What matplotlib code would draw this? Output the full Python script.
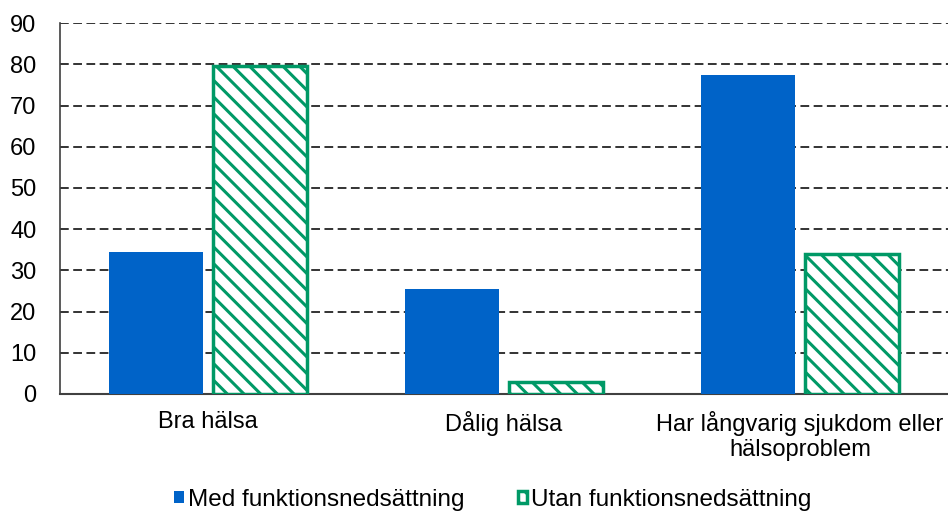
import matplotlib
matplotlib.use("Agg")
import matplotlib.pyplot as plt
import numpy as np

categories = ["Bra hälsa", "Dålig hälsa", "Har långvarig sjukdom eller\nhälsoproblem"]
med = [34.5, 25.5, 77.5]
utan = [79.5, 3.0, 34.0]
series_names = ["Med funktionsnedsättning", "Utan funktionsnedsättning"]

blue = "#0063C8"
green = "#009966"

plt.rcParams["font.family"] = ["Liberation Sans", "DejaVu Sans"]
plt.rcParams["hatch.linewidth"] = 2.2
plt.rcParams["hatch.color"] = green

fig = plt.figure(figsize=(9.48, 5.13), dpi=100)
ax = fig.add_axes([0.0633, 0.232, 0.9367, 0.723])

x = np.arange(len(categories))
w = 0.317
ax.bar(x - 0.175, med, width=w, color=blue, zorder=3, label=series_names[0])
ax.bar(x + 0.175, utan, width=w, facecolor="white", edgecolor=green,
       linewidth=2.5, hatch="\\\\", zorder=3, label=series_names[1])

ax.set_xlim(-0.5, 2.5)
ax.set_ylim(0, 90)
ax.set_yticks(range(0, 91, 10))
ax.set_xticks(x)
ax.set_xticklabels(categories, fontsize=17, linespacing=1.2)
ax.tick_params(axis="y", labelsize=17, length=0, pad=17)
ax.tick_params(axis="x", length=0, pad=12)
ax.yaxis.grid(True, linestyle=(0, (4.5, 2.3)), color="#333333", linewidth=1.4, zorder=0)
ax.set_axisbelow(True)
for s in ["top", "right"]:
    ax.spines[s].set_visible(False)
ax.spines["left"].set_color("#404040")
ax.spines["left"].set_linewidth(1.2)
ax.spines["bottom"].set_color("#404040")
ax.spines["bottom"].set_linewidth(1.5)

fig.legend(loc="lower center", bbox_to_anchor=(0.52, -0.038), ncol=2, frameon=False,
           fontsize=17.5, handlelength=0.4, handleheight=0.4, handletextpad=0.15,
           columnspacing=2.2)

fig.savefig("out.png", dpi=100)
